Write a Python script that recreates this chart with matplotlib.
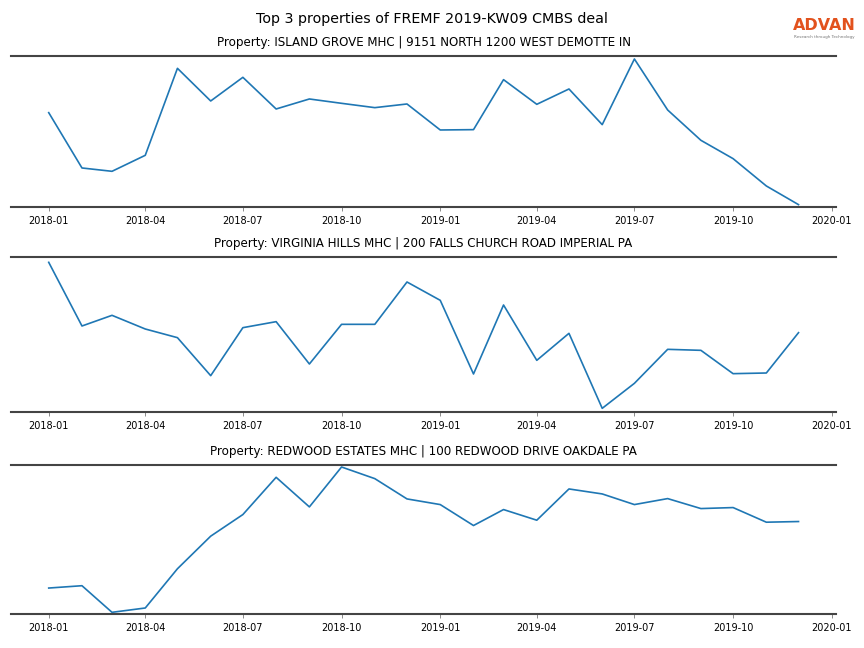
import pandas as pd
import matplotlib
matplotlib.use("Agg")
import matplotlib.pyplot as plt
import matplotlib.dates as mdates

# monthly series, 2018-01 .. 2019-12
months = pd.date_range("2018-01-01", "2019-12-01", freq="MS")

titles = [
    "Property: ISLAND GROVE MHC | 9151 NORTH 1200 WEST DEMOTTE IN",
    "Property: VIRGINIA HILLS MHC | 200 FALLS CHURCH ROAD IMPERIAL PA",
    "Property: REDWOOD ESTATES MHC | 100 REDWOOD DRIVE OAKDALE PA",
]

island_grove = [282, 116, 106, 154, 415, 317, 388, 293, 323, 310, 297, 308,
                230, 231, 381, 307, 353, 246, 443, 290, 199, 144, 62, 6]
virginia_hills = [443, 252, 284, 243, 217, 103, 247, 265, 138, 257, 257, 384,
                  329, 108, 315, 149, 230, 5, 80, 182, 179, 109, 111, 232]
redwood_estates = [79, 86, 6, 19, 137, 235, 300, 412, 323, 443, 408, 347,
                   330, 267, 315, 283, 377, 362, 330, 348, 318, 321, 277, 279]

series = [island_grove, virginia_hills, redwood_estates]
y_limits = [(-1, 452), (-6, 459), (1, 449)]

fig = plt.figure(figsize=(8.64, 6.48), dpi=100)

# axes boxes (left, bottom, width, height) in figure fractions
boxes = [
    (0.013, 0.6806, 0.9546, 0.2330),
    (0.013, 0.3642, 0.9546, 0.2392),
    (0.013, 0.0525, 0.9546, 0.2299),
]

for box, title, vals, ylim in zip(boxes, titles, series, y_limits):
    ax = fig.add_axes(box)
    ax.plot(months, vals, color="#1f77b4", linewidth=1.2)
    ax.set_title(title, fontsize=8.6, pad=7.5)
    ax.margins(x=0.05)
    ax.set_ylim(*ylim)
    ax.xaxis.set_major_locator(mdates.MonthLocator(bymonth=[1, 4, 7, 10]))
    ax.xaxis.set_major_formatter(mdates.DateFormatter("%Y-%m"))
    ax.tick_params(axis="x", labelsize=7, length=3, width=0.6, color="#777777")
    ax.set_yticks([])
    for side in ["left", "right"]:
        ax.spines[side].set_visible(False)
    for side in ["top", "bottom"]:
        ax.spines[side].set_color("#444444")
        ax.spines[side].set_linewidth(1.5)

fig.text(0.5, 1 - 19.5 / 648, "Top 3 properties of FREMF 2019-KW09 CMBS deal",
         fontsize=10.3, ha="center", va="center")

# logo
fig.text(0.954, 1 - 25 / 648, "ADVAN", color="#E2521D", fontsize=11.5,
         fontweight="bold", ha="center", va="center")
fig.text(0.954, 1 - 37 / 648, "Research through Technology", color="#777777",
         fontsize=3, ha="center", va="center")

fig.savefig("out.png", dpi=100)
